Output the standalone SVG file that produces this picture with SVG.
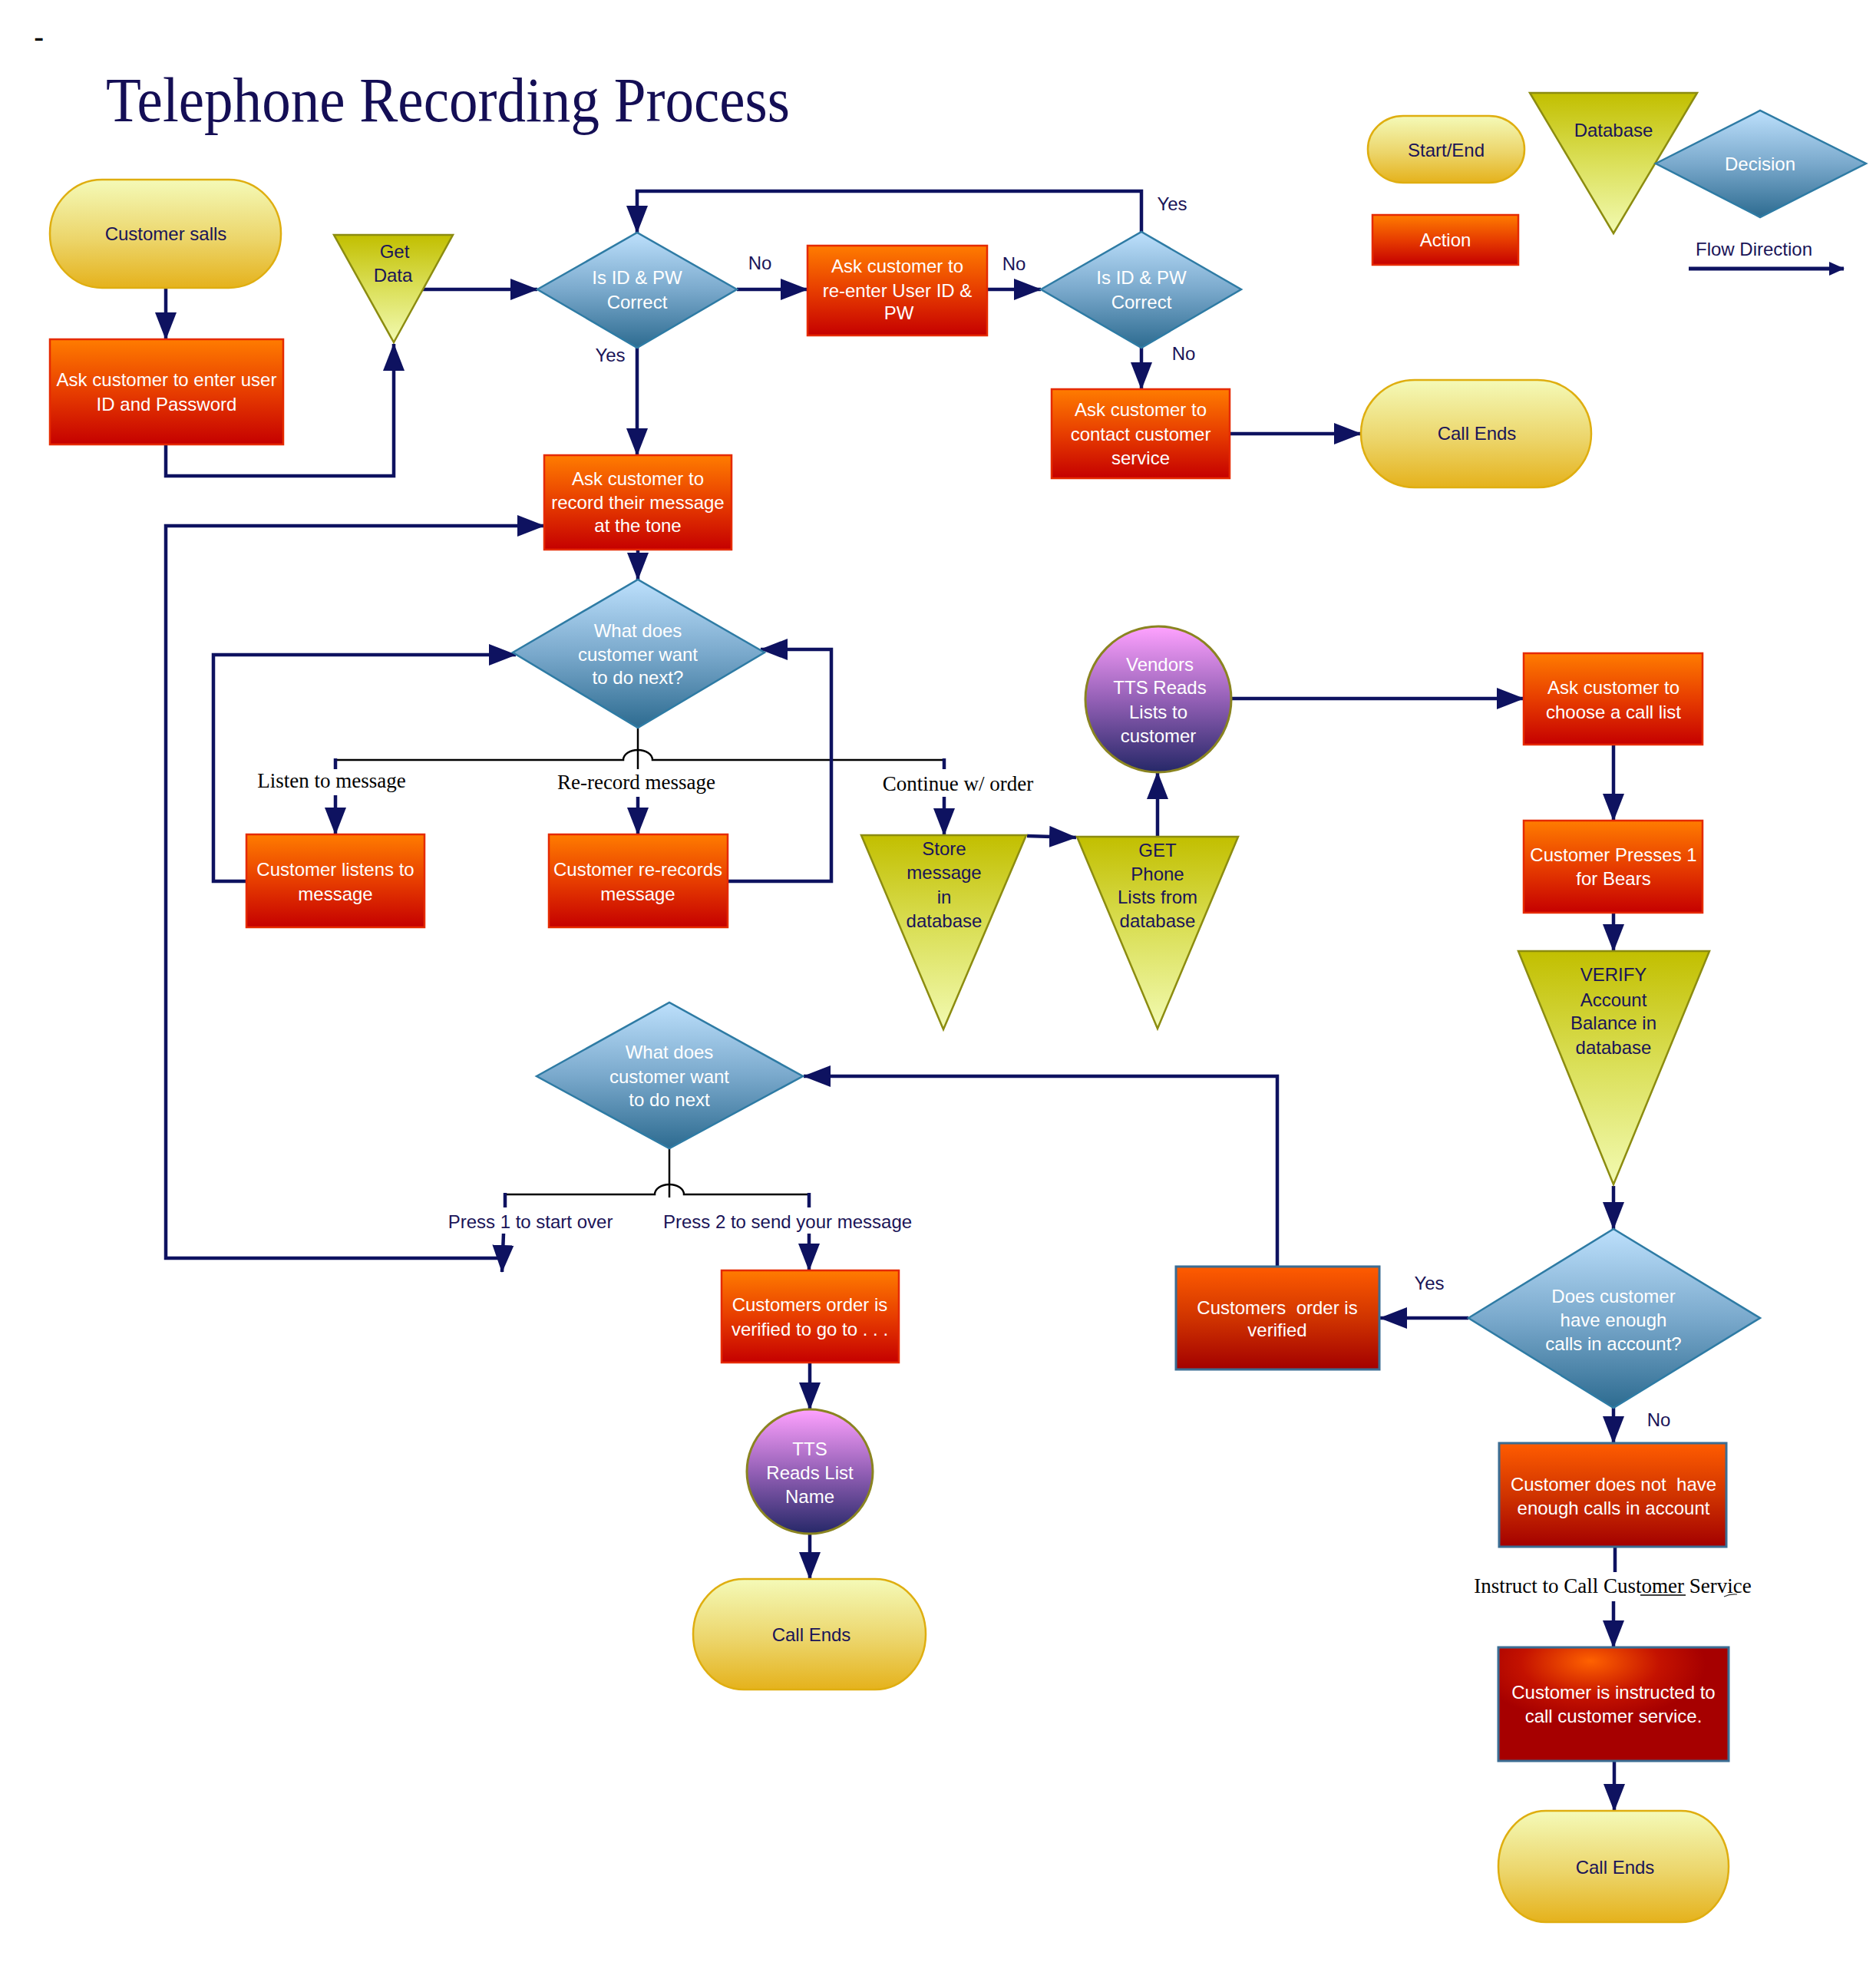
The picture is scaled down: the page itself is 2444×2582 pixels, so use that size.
<svg xmlns="http://www.w3.org/2000/svg" width="2444" height="2582" viewBox="0 0 2444 2582">
<defs>
<linearGradient id="gPill" x1="0" y1="0" x2="0" y2="1"><stop offset="0" stop-color="#f4fab8"/><stop offset="0.55" stop-color="#ecd56a"/><stop offset="1" stop-color="#e5b21c"/></linearGradient>
<linearGradient id="gAct" x1="0" y1="0" x2="0" y2="1"><stop offset="0" stop-color="#ff7c00"/><stop offset="0.5" stop-color="#e73d00"/><stop offset="1" stop-color="#c50000"/></linearGradient>
<linearGradient id="gAct2" x1="0" y1="0" x2="0" y2="1"><stop offset="0" stop-color="#ff5c00"/><stop offset="0.5" stop-color="#d03400"/><stop offset="1" stop-color="#a30000"/></linearGradient>
<radialGradient id="gAct3" cx="0.4" cy="0.15" r="0.5" fx="0.4" fy="0.12"><stop offset="0" stop-color="#ff6200"/><stop offset="0.6" stop-color="#c41200"/><stop offset="1" stop-color="#a60000"/></radialGradient>
<linearGradient id="gTri" x1="0" y1="0" x2="0" y2="1"><stop offset="0" stop-color="#c2bf00"/><stop offset="0.5" stop-color="#dbe05a"/><stop offset="1" stop-color="#f2fab2"/></linearGradient>
<linearGradient id="gDia" x1="0" y1="0" x2="0" y2="1"><stop offset="0" stop-color="#bde0fc"/><stop offset="0.5" stop-color="#7aa9cc"/><stop offset="1" stop-color="#2d6b90"/></linearGradient>
<linearGradient id="gCir" x1="0" y1="0" x2="0" y2="1"><stop offset="0" stop-color="#ffa2ff"/><stop offset="0.5" stop-color="#9460b6"/><stop offset="1" stop-color="#262868"/></linearGradient>
<marker id="ah" markerUnits="userSpaceOnUse" markerWidth="36" markerHeight="28" refX="35" refY="14" orient="auto" viewBox="0 0 36 28"><path d="M0,0 L36,14 L0,28 Z" fill="#0e1260"/></marker>
<marker id="ahs" markerUnits="userSpaceOnUse" markerWidth="20" markerHeight="18" refX="19" refY="9" orient="auto" viewBox="0 0 20 18"><path d="M0,0 L20,9 L0,18 Z" fill="#0e1260"/></marker>
</defs>
<style>
.pill{fill:url(#gPill);stroke:#dfae10;stroke-width:2.5}
.act{fill:url(#gAct);stroke:#e52a00;stroke-width:2.5}
.act2{fill:url(#gAct2);stroke:#3b6d93;stroke-width:3}
.act3{fill:url(#gAct3);stroke:#3b6d93;stroke-width:3}
.tri{fill:url(#gTri);stroke:#8c8c10;stroke-width:2.5}
.dia{fill:url(#gDia);stroke:#2e7ba4;stroke-width:2.5}
.cir{fill:url(#gCir);stroke:#8a8420;stroke-width:3}
text{font-family:"Liberation Sans",Arial,sans-serif;font-size:24px;text-anchor:middle}
.w{fill:#ffffff}
.n{fill:#1a1458}
.lbl{fill:#1a1458}
.ser{font-family:"Liberation Serif","Times New Roman",serif;font-size:27px;fill:#000000}
.title{font-family:"Liberation Serif","Times New Roman",serif;font-size:82px;fill:#140e55;text-anchor:start}
.c{fill:none;stroke:#0e1260;stroke-width:4.5}
.ca{fill:none;stroke:#0e1260;stroke-width:4.5;marker-end:url(#ah)}
.cb{fill:none;stroke:#000000;stroke-width:2.5}
</style>

<text x="44" y="62" style="font-size:40px;text-anchor:start;fill:#000">-</text>
<text class="title" x="138" y="158" textLength="891" lengthAdjust="spacingAndGlyphs">Telephone Recording Process</text>

<g id="legend">
<rect class="pill" x="1782" y="151" width="204" height="87" rx="46" ry="43"/>
<text class="n" x="1884" y="204">Start/End</text>
<rect class="act" x="1788" y="280" width="190" height="65"/>
<text class="w" x="1883" y="321">Action</text>
<path class="tri" d="M1993 121 L2211 121 L2102 304 Z"/>
<text class="n" x="2102" y="178">Database</text>
<path class="dia" d="M2157 213 L2293 144 L2431 213 L2293 283 Z"/>
<text class="w" x="2293" y="222">Decision</text>
<text class="n" x="2285" y="333">Flow Direction</text>
<path d="M2200 350 H2402" style="fill:none;stroke:#0e1260;stroke-width:5;marker-end:url(#ahs)"/>
</g>

<g id="connectors">
<path class="ca" d="M216 375 V442"/>
<path class="ca" d="M216 579 V620 H513 V448"/>
<path class="ca" d="M551 377 H700"/>
<path class="ca" d="M960 377 H1052"/>
<path class="ca" d="M1286 377 H1356"/>
<path class="ca" d="M1487 302 V249 H830 V303"/>
<path class="ca" d="M1487 453 V507"/>
<path class="ca" d="M1602 565 H1773"/>
<path class="ca" d="M830 453 V593"/>
<path class="ca" d="M654 1639 H216 V685 H709"/>
<path class="ca" d="M831 716 V755"/>
<path class="cb" d="M831 948 V1002"/>
<path class="cb" d="M437 990 H812 A19 13 0 0 1 850 990 H1230"/>
<path class="c" d="M437 988 V1002"/>
<path class="c" d="M1230 988 V1002"/>
<path class="ca" d="M437 1036 V1087"/>
<path class="ca" d="M831 1038 V1087"/>
<path class="ca" d="M1230 1038 V1088"/>
<path class="ca" d="M321 1148 H278 V853 H672"/>
<path class="ca" d="M948 1148 H1083 V846 H991"/>
<path class="ca" d="M1338 1089 L1402 1091"/>
<path class="ca" d="M1508 1090 V1006"/>
<path class="ca" d="M1604 910 H1985"/>
<path class="ca" d="M2102 970 V1069"/>
<path class="ca" d="M2102 1189 V1239"/>
<path class="ca" d="M2102 1545 V1601"/>
<path class="ca" d="M1913 1717 H1798"/>
<path class="ca" d="M1664 1650 V1402 H1047"/>
<path class="cb" d="M872 1496 V1560"/>
<path class="cb" d="M658 1556 H853 A19 13 0 0 1 891 1556 H1054"/>
<path class="c" d="M658 1554 V1573"/>
<path class="c" d="M1054 1554 V1573"/>
<path class="ca" d="M656 1607 L654 1657"/>
<path class="ca" d="M1054 1607 V1655"/>
<path class="ca" d="M1055 1775 V1836"/>
<path class="ca" d="M1055 1998 V2057"/>
<path class="ca" d="M2102 1834 V1880"/>
<path class="c" d="M2104 2015 V2048"/>
<path class="ca" d="M2102 2086 V2146"/>
<path class="ca" d="M2103 2294 V2359"/>
<text class="lbl" x="990" y="351">No</text>
<text class="lbl" x="1321" y="352">No</text>
<text class="lbl" x="1527" y="274">Yes</text>
<text class="lbl" x="1542" y="469">No</text>
<text class="lbl" x="795" y="471">Yes</text>
<text class="ser" x="432" y="1026">Listen to message</text>
<text class="ser" x="829" y="1028">Re-record message</text>
<text class="ser" x="1248" y="1030">Continue w/ order</text>
<text class="lbl" x="1862" y="1680">Yes</text>
<text class="lbl" x="2161" y="1858">No</text>
<text class="lbl" x="691" y="1600">Press 1 to start over</text>
<text class="lbl" x="1026" y="1600">Press 2 to send your message</text>
<text class="ser" x="2101" y="2075">Instruct to Call Customer Service</text>
<path d="M2137 2078 H2196" style="stroke:#000;stroke-width:1.5;fill:none"/>
<path d="M2246 2080 Q2254 2076 2263 2077" style="stroke:#333;stroke-width:1.2;fill:none"/>
</g>

<g id="n-customer-calls">
<rect class="pill" x="65" y="234" width="301" height="141" rx="68" ry="70"/>
<text class="n" x="216" y="313">Customer salls</text>
</g>
<g id="n-ask-enter">
<rect class="act" x="65" y="442" width="304" height="137"/>
<text class="w" x="217" y="503">Ask customer to enter user</text>
<text class="w" x="217" y="535">ID and Password</text>
</g>
<g id="n-get-data">
<path class="tri" d="M435 306 L590 306 L513 446 Z"/>
<text class="n" x="514" y="336">Get</text>
<text class="n" x="512" y="367">Data</text>
</g>
<g id="n-check1">
<path class="dia" d="M700 377 L830 303 L960 377 L830 453 Z"/>
<text class="w" x="830" y="370">Is ID &amp; PW</text>
<text class="w" x="830" y="402">Correct</text>
</g>
<g id="n-reenter">
<rect class="act" x="1052" y="320" width="234" height="117"/>
<text class="w" x="1169" y="355">Ask customer to</text>
<text class="w" x="1169" y="387">re-enter User ID &amp;</text>
<text class="w" x="1171" y="416">PW</text>
</g>
<g id="n-check2">
<path class="dia" d="M1356 377 L1487 302 L1617 377 L1487 453 Z"/>
<text class="w" x="1487" y="370">Is ID &amp; PW</text>
<text class="w" x="1487" y="402">Correct</text>
</g>
<g id="n-contact">
<rect class="act" x="1370" y="507" width="232" height="116"/>
<text class="w" x="1486" y="542">Ask customer to</text>
<text class="w" x="1486" y="574">contact customer</text>
<text class="w" x="1486" y="605">service</text>
</g>
<g id="n-call-ends-1">
<rect class="pill" x="1773" y="495" width="300" height="140" rx="70" ry="70"/>
<text class="n" x="1924" y="573">Call Ends</text>
</g>
<g id="n-record">
<rect class="act" x="709" y="593" width="244" height="123"/>
<text class="w" x="831" y="632">Ask customer to</text>
<text class="w" x="831" y="663">record their message</text>
<text class="w" x="831" y="693">at the tone</text>
</g>
<g id="n-next1">
<path class="dia" d="M668 850 L831 755 L996 850 L831 948 Z"/>
<text class="w" x="831" y="830">What does</text>
<text class="w" x="831" y="861">customer want</text>
<text class="w" x="831" y="891">to do next?</text>
</g>
<g id="n-listens">
<rect class="act" x="321" y="1087" width="232" height="121"/>
<text class="w" x="437" y="1141">Customer listens to</text>
<text class="w" x="437" y="1173">message</text>
</g>
<g id="n-rerecords">
<rect class="act" x="715" y="1087" width="233" height="121"/>
<text class="w" x="831" y="1141">Customer re-records</text>
<text class="w" x="831" y="1173">message</text>
</g>
<g id="n-store">
<path class="tri" d="M1122 1088 L1337 1088 L1229 1341 Z"/>
<text class="n" x="1230" y="1114">Store</text>
<text class="n" x="1230" y="1145">message</text>
<text class="n" x="1230" y="1177">in</text>
<text class="n" x="1230" y="1208">database</text>
</g>
<g id="n-get-phone">
<path class="tri" d="M1403 1090 L1613 1090 L1508 1340 Z"/>
<text class="n" x="1508" y="1116">GET</text>
<text class="n" x="1508" y="1147">Phone</text>
<text class="n" x="1508" y="1177">Lists from</text>
<text class="n" x="1508" y="1208">database</text>
</g>
<g id="n-vendors-tts">
<ellipse class="cir" cx="1509" cy="911" rx="95" ry="95"/>
<text class="w" x="1511" y="874">Vendors</text>
<text class="w" x="1511" y="904">TTS Reads</text>
<text class="w" x="1509" y="936">Lists to</text>
<text class="w" x="1509" y="967">customer</text>
</g>
<g id="n-choose-list">
<rect class="act" x="1985" y="851" width="233" height="119"/>
<text class="w" x="2102" y="904">Ask customer to</text>
<text class="w" x="2102" y="936">choose a call list</text>
</g>
<g id="n-presses">
<rect class="act" x="1985" y="1069" width="233" height="120"/>
<text class="w" x="2102" y="1122">Customer Presses 1</text>
<text class="w" x="2102" y="1153">for Bears</text>
</g>
<g id="n-verify">
<path class="tri" d="M1978 1239 L2227 1239 L2102 1543 Z"/>
<text class="n" x="2102" y="1278">VERIFY</text>
<text class="n" x="2102" y="1311">Account</text>
<text class="n" x="2102" y="1341">Balance in</text>
<text class="n" x="2102" y="1373">database</text>
</g>
<g id="n-enough">
<path class="dia" d="M1913 1717 L2102 1601 L2293 1717 L2102 1834 Z"/>
<text class="w" x="2102" y="1697">Does customer</text>
<text class="w" x="2102" y="1728">have enough</text>
<text class="w" x="2102" y="1759">calls in account?</text>
</g>
<g id="n-order-verified">
<rect class="act2" x="1532" y="1650" width="265" height="134"/>
<text class="w" x="1664" y="1712" xml:space="preserve">Customers  order is</text>
<text class="w" x="1664" y="1741">verified</text>
</g>
<g id="n-next2">
<path class="dia" d="M699 1402 L872 1306 L1046 1402 L872 1496 Z"/>
<text class="w" x="872" y="1379">What does</text>
<text class="w" x="872" y="1411">customer want</text>
<text class="w" x="872" y="1441">to do next</text>
</g>
<g id="n-order-go">
<rect class="act" x="940" y="1655" width="231" height="120"/>
<text class="w" x="1055" y="1708">Customers order is</text>
<text class="w" x="1055" y="1740">verified to go to . . .</text>
</g>
<g id="n-tts-name">
<ellipse class="cir" cx="1055" cy="1917" rx="82" ry="81"/>
<text class="w" x="1055" y="1896">TTS</text>
<text class="w" x="1055" y="1927">Reads List</text>
<text class="w" x="1055" y="1958">Name</text>
</g>
<g id="n-call-ends-2">
<rect class="pill" x="903" y="2057" width="303" height="144" rx="66" ry="72"/>
<text class="n" x="1057" y="2138">Call Ends</text>
</g>
<g id="n-not-enough">
<rect class="act2" x="1953" y="1880" width="296" height="135"/>
<text class="w" x="2102" y="1942" xml:space="preserve">Customer does not  have</text>
<text class="w" x="2102" y="1973">enough calls in account</text>
</g>
<g id="n-instructed">
<rect class="act3" x="1952" y="2146" width="300" height="148"/>
<text class="w" x="2102" y="2213">Customer is instructed to</text>
<text class="w" x="2102" y="2244">call customer service.</text>
</g>
<g id="n-call-ends-3">
<rect class="pill" x="1952" y="2359" width="300" height="145" rx="62" ry="72"/>
<text class="n" x="2104" y="2441">Call Ends</text>
</g>
</svg>
